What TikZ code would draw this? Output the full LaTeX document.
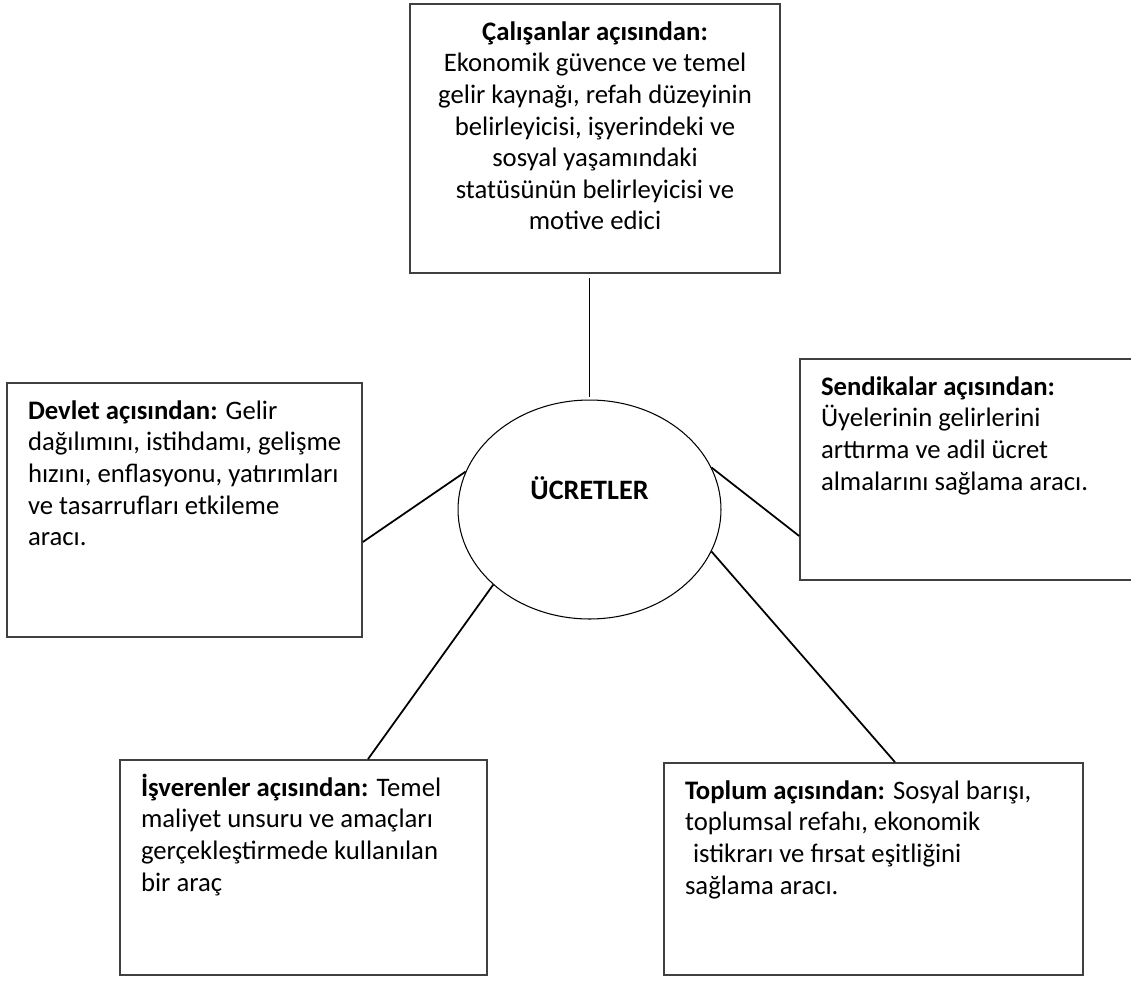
\documentclass[tikz,border=0pt]{standalone}
\usepackage{fontspec}
\setmainfont{Carlito}
\usetikzlibrary{calc,shapes.geometric}
\def\cardtext(#1:#2)#3{\parbox[c][#2][t]{#1}{\begin{tabular}[t]{@{}l@{}}#3\end{tabular}}}
\def\cardmid(#1:#2)#3{\parbox[c][#2][t]{#1}{\centering\begin{tabular}[t]{@{}c@{}}#3\end{tabular}}}

\begin{document}
\begin{tikzpicture}[x=0.02cm, y=-0.02cm,
	font=\fontsize{15.2}{18}\selectfont,
	card/.style={draw=black!75, line width=1pt, inner xsep=0.42cm, inner ysep=0.28cm},
	hub/.style={draw, ellipse, line width=0.6pt, minimum width=5.26cm, minimum height=4.38cm,
		font=\fontsize{16}{19}\selectfont\bfseries, text height=0.36cm, text depth=0.78cm},
	link/.style={line width=1pt}]
		\clip (0, 0) rectangle (1131, 980);
		%%%%% START %%%%%
		\node[hub] (uc) at (589.5, 509.5) {ÜCRETLER};
		
		\node[card] (cal) at (595, 138.5) {\cardmid(6.56cm:4.82cm){\textbf{Çalışanlar açısından:}\\ Ekonomik güvence ve temel\\ gelir kaynağı, refah düzeyinin\\ belirleyicisi, işyerindeki ve\\ sosyal yaşamındaki\\ statüsünün belirleyicisi ve\\ motive edici}};
		\node[card] (devlet) at (184.5, 510) {\cardtext(6.26cm:4.52cm){\textbf{Devlet açısından:} Gelir\\ dağılımını, istihdamı, gelişme\\ hızını, enflasyonu, yatırımları\\ ve tasarrufları etkileme\\ aracı.}};
		\node[card] (sendika) at (972.5, 469.5) {\cardtext(6.06cm:3.86cm){\textbf{Sendikalar açısından:}\\ Üyelerinin gelirlerini\\ arttırma ve adil ücret\\ almalarını sağlama aracı.}};
		\node[card] (isveren) at (303.5, 867.5) {\cardtext(6.5cm:3.74cm){\textbf{İşverenler açısından:} Temel\\ maliyet unsuru ve amaçları\\ gerçekleştirmede kullanılan\\ bir araç}};
		\node[card] (toplum) at (873.5, 869) {\cardtext(7.54cm:3.68cm){\textbf{Toplum açısından:} Sosyal barışı,\\ toplumsal refahı, ekonomik\\ \hspace*{0.3em}istikrarı ve fırsat eşitliğini\\ sağlama aracı.}};
		
		\draw[link, shorten <=0.08cm, shorten >=0.06cm] (cal.south -| uc.north) -- (uc.north);
		\draw[link] ([yshift=-0.64cm]devlet.east) -- (uc.163.6);
		\draw[link] (uc.19.7) -- ([yshift=-1.33cm]sendika.west);
		\draw[link] (uc.218.2) -- ([xshift=1.29cm]isveren.north);
		\draw[link] (uc.-19.3) -- ([xshift=0.43cm]toplum.north);
		%%%%% END %%%%%
	\end{tikzpicture}
\end{document}
